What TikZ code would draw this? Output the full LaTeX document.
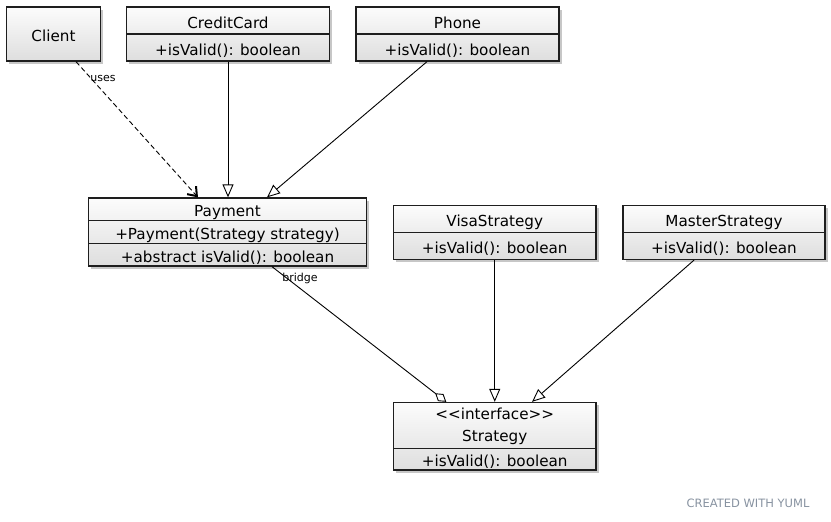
\documentclass[tikz,border=0pt]{standalone}
\usepackage{fontspec}
\setmainfont{DejaVu Sans}
\usetikzlibrary{arrows.meta,shadows}
\definecolor{boxtop}{RGB}{252,252,252}
\definecolor{boxbot}{RGB}{222,222,222}
\definecolor{boxline}{RGB}{30,30,30}
\definecolor{footer}{RGB}{135,146,160}
\tikzset{
  classbg/.style={rectangle, inner sep=0pt, top color=boxtop, bottom color=boxbot,
    drop shadow={shadow xshift=2.5pt, shadow yshift=-2.5pt, fill=black, opacity=0.22}},
  part/.style={rectangle, draw=boxline, line width=1.3pt, inner sep=0pt,
    font=\fontsize{15.2}{18}\selectfont, text height=15pt, text depth=0pt},
  part2/.style={rectangle, draw=boxline, line width=1.3pt, inner sep=0pt,
    align=center, font=\fontsize{15.2}{23.5}\selectfont},
  conn/.style={draw=black, line width=0.9pt},
  gen/.style={conn, -{Triangle[open, length=13pt, width=11pt]}},
  lbl/.style={font=\fontsize{11}{13}\selectfont, inner sep=0pt},
}
\begin{document}
\begin{tikzpicture}[x=1pt,y=-1pt]
\useasboundingbox (0,0) rectangle (831,522);

% Client
\node[classbg, minimum width=93.5pt, minimum height=54pt] (client) at (53.5,34) {};
\node[part, minimum width=93.5pt, minimum height=54pt] (client1) at (53.5,34) {Client};

% CreditCard
\node[classbg, minimum width=203pt, minimum height=54pt] (cc) at (228,34) {};
\node[part, minimum width=203pt, minimum height=27pt] (cc1) at (228,20.5) {CreditCard};
\node[part, minimum width=203pt, minimum height=27pt] (cc2) at (228,47.5) {+isValid(): boolean};

% Phone
\node[classbg, minimum width=203pt, minimum height=54pt] (ph) at (457.5,34) {};
\node[part, minimum width=203pt, minimum height=27pt] (ph1) at (457.5,20.5) {Phone};
\node[part, minimum width=203pt, minimum height=27pt] (ph2) at (457.5,47.5) {+isValid(): boolean};

% Payment
\node[classbg, minimum width=278pt, minimum height=68pt] (pay) at (227.5,232) {};
\node[part, minimum width=278pt, minimum height=22.7pt] (pay1) at (227.5,209.35) {Payment};
\node[part, minimum width=278pt, minimum height=22.6pt] (pay2) at (227.5,232) {+Payment(Strategy strategy)};
\node[part, minimum width=278pt, minimum height=22.7pt] (pay3) at (227.5,254.65) {+abstract isValid(): boolean};

% VisaStrategy
\node[classbg, minimum width=202.5pt, minimum height=54pt] (vs) at (494.75,232.5) {};
\node[part, minimum width=202.5pt, minimum height=27pt] (vs1) at (494.75,219) {VisaStrategy};
\node[part, minimum width=202.5pt, minimum height=27pt] (vs2) at (494.75,246) {+isValid(): boolean};

% MasterStrategy
\node[classbg, minimum width=202pt, minimum height=54pt] (ms) at (724,232.5) {};
\node[part, minimum width=202pt, minimum height=27pt] (ms1) at (724,219) {MasterStrategy};
\node[part, minimum width=202pt, minimum height=27pt] (ms2) at (724,246) {+isValid(): boolean};

% Strategy
\node[classbg, minimum width=202.5pt, minimum height=67.5pt] (st) at (494.75,436.25) {};
\node[part2, minimum width=202.5pt, minimum height=46pt] (st1) at (494.75,425.5) {};
\node[font=\fontsize{15.2}{18}\selectfont, inner sep=0pt] (st1a) at (494.75,414) {<{}<interface>{}>};
\node[font=\fontsize{15.2}{18}\selectfont, inner sep=0pt] (st1b) at (494.75,437.5) {Strategy};
\node[part, minimum width=202.5pt, minimum height=21.5pt] (st2) at (494.75,459.25) {+isValid(): boolean};

% connectors
\draw[conn, dashed, dash pattern=on 5pt off 3pt, -{Straight Barb[length=8pt, width=12pt, line width=2pt]}]
  ([xshift=22.5pt]client1.south) -- ([xshift=-29.5pt]pay1.north);
\node[lbl] (uses) at (103,78) {uses};

\draw[gen] (cc2.south) -- (cc2.south |- pay1.north);
\draw[gen] ([xshift=-30.5pt]ph2.south) -- ([xshift=39.5pt]pay1.north);

\draw[conn, -{Diamond[open, length=14pt, width=9pt]}]
  ([xshift=44.5pt]pay3.south) -- ([xshift=-48.5pt]st1.north);
\node[lbl] (bridge) at (300,278) {bridge};

\draw[gen] (vs2.south) -- (st1.north);
\draw[gen] ([xshift=-30pt]ms2.south) -- ([xshift=37.3pt]st1.north);

% footer
\node[font=\fontsize{11.5}{13}\selectfont, text=footer, inner sep=0pt] (credit) at (748,503) {CREATED WITH YUML};
\end{tikzpicture}
\end{document}
